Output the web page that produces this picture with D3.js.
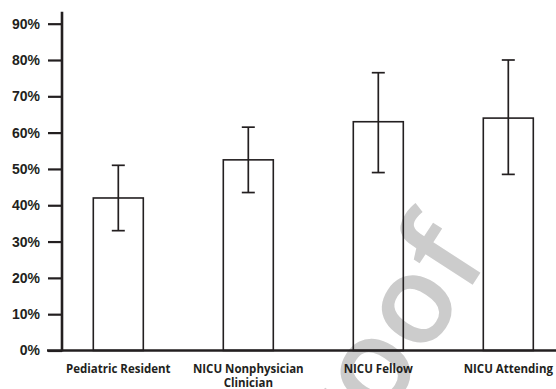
<!DOCTYPE html>
<html>
<head>
<meta charset="utf-8">
<script src="https://cdn.jsdelivr.net/npm/d3@7"></script>
<style>
html,body{margin:0;padding:0;background:#fff;}
svg{display:block;}
</style>
</head>
<body>
<svg id="chart" width="556" height="389"></svg>
<script>
const categories = ["Pediatric Resident", "NICU Nonphysician Clinician", "NICU Fellow", "NICU Attending"];
const values = [42, 52.5, 63, 64];
const lowerCI = [33, 43.5, 49, 48.5];
const upperCI = [51, 61.5, 76.5, 80];
const yTicks = [0, 10, 20, 30, 40, 50, 60, 70, 80, 90];

const svg = d3.select("#chart");
const ink = "#231f20";

// watermark (behind the marks)
svg.append("text")
  .attr("transform", "translate(490,258) rotate(-57)")
  .attr("text-anchor", "end")
  .attr("font-family", "'Open Sans', Lato, sans-serif")
  .attr("font-weight", 600)
  .attr("font-size", 124)
  .attr("fill", "#cccccc")
  .text("Proof");

const y = d3.scaleLinear().domain([0, 93.3]).range([350.5, 11.7]);
const x = d3.scaleBand().domain(categories).range([53.3, 573.3])
  .paddingInner(80 / 130).paddingOuter(40 / 130);

// y axis
const yAxis = d3.axisLeft(y).tickValues(yTicks).tickSize(14).tickPadding(8)
  .tickFormat(d => d + "%");
const gy = svg.append("g").attr("transform", "translate(62,0)").call(yAxis);
gy.select(".domain").remove();
gy.selectAll(".tick line").attr("stroke", ink).attr("stroke-width", 2.2);
gy.selectAll(".tick text")
  .attr("font-family", "'Liberation Sans', Arial, sans-serif")
  .attr("font-weight", "bold").attr("font-size", 14).attr("fill", ink);
svg.append("line").attr("x1", 62).attr("x2", 62)
  .attr("y1", y(93.3)).attr("y2", y(0) + 1)
  .attr("stroke", ink).attr("stroke-width", 2.6);

// bars
svg.append("g").selectAll("rect").data(categories).join("rect")
  .attr("x", d => x(d))
  .attr("y", (d, i) => y(values[i]))
  .attr("width", x.bandwidth())
  .attr("height", (d, i) => y(0) - y(values[i]))
  .attr("fill", "none").attr("stroke", ink).attr("stroke-width", 1.6);

// error bars
const eg = svg.append("g").attr("stroke", ink).attr("stroke-width", 1.7);
categories.forEach((c, i) => {
  const cx = x(c) + x.bandwidth() / 2;
  eg.append("line").attr("x1", cx).attr("x2", cx)
    .attr("y1", y(upperCI[i])).attr("y2", y(lowerCI[i]));
  eg.append("line").attr("x1", cx - 6.5).attr("x2", cx + 6.5)
    .attr("y1", y(upperCI[i])).attr("y2", y(upperCI[i]));
  eg.append("line").attr("x1", cx - 6.5).attr("x2", cx + 6.5)
    .attr("y1", y(lowerCI[i])).attr("y2", y(lowerCI[i]));
});

// x axis baseline
svg.append("line").attr("x1", 47).attr("x2", 556)
  .attr("y1", y(0)).attr("y2", y(0))
  .attr("stroke", ink).attr("stroke-width", 2.6);

// category labels
const labelLines = {
  "NICU Nonphysician Clinician": ["NICU Nonphysician", "Clinician"]
};
const lg = svg.append("g")
  .attr("font-family", "'Open Sans', Lato, sans-serif")
  .attr("font-weight", "bold").attr("font-size", 11.5).attr("fill", ink)
  .attr("text-anchor", "middle");
categories.forEach(c => {
  const cx = x(c) + x.bandwidth() / 2;
  const lines = labelLines[c] || [c];
  lines.forEach((t, k) => {
    lg.append("text").attr("x", cx).attr("y", 373.3 + k * 13.5).text(t);
  });
});
</script>
</body>
</html>
